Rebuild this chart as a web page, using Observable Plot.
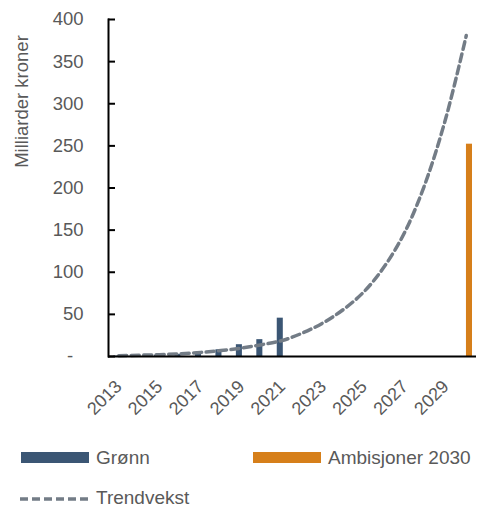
<!DOCTYPE html>
<html>
<head>
<meta charset="utf-8">
<script src="https://cdn.jsdelivr.net/npm/d3@7"></script>
<script src="https://cdn.jsdelivr.net/npm/@observablehq/plot@0.6"></script>
<style>
  body { margin: 0; background: #fff; font-family: "Liberation Sans", Arial, sans-serif; color: #595959; }
  #chart { width: 477px; height: 430px; }
  #legend { position: relative; width: 477px; height: 77px; font-size: 19px; }
  .sw { position: absolute; }
  .lt { position: absolute; line-height: 17px; white-space: nowrap; }
</style>
</head>
<body>
<div id="chart"></div>
<div id="legend"></div>
<script>
// ---- Data ----
const years = [2013, 2014, 2015, 2016, 2017, 2018, 2019, 2020, 2021, 2022, 2023, 2024, 2025, 2026, 2027, 2028, 2029, 2030];
const gronnYears = [2013, 2014, 2015, 2016, 2017, 2018, 2019, 2020, 2021];
const gronnValues = [0.5, 1, 1.5, 2.5, 5, 8, 14, 20, 45.5];
const ambisjonYears = [2030];
const ambisjonValues = [252];
const trendValues = [1, 1.5, 2.2, 3.2, 4.8, 7, 10, 14, 19, 28, 40, 56, 77, 107, 148, 206, 283, 381];
const xTickLabels = [2013, 2015, 2017, 2019, 2021, 2023, 2025, 2027, 2029];
const yTicks = [0, 50, 100, 150, 200, 250, 300, 350, 400];
const yTitle = "Milliarder kroner";
const seriesNames = ["Grønn", "Ambisjoner 2030", "Trendvekst"];

// ---- Tables ----
const gronnData = gronnYears.map((y, i) => ({year: y, value: gronnValues[i]}));
const ambData = ambisjonYears.map((y, i) => ({year: y, value: ambisjonValues[i]}));
const trendData = years.map((y, i) => ({year: y, value: trendValues[i]}));

const BLUE = "#3b5674", ORANGE = "#d67f1a", GREY = "#737c86", TEXT = "#595959";
const W = 477, ML = 108, MR = 1, TICK = 7;

const plot = Plot.plot({
  width: W,
  height: 430,
  marginLeft: ML,
  marginRight: MR,
  marginTop: 19,
  marginBottom: 74,
  style: {fontFamily: "'Liberation Sans', Arial, sans-serif", fontSize: "18.5px", color: TEXT, background: "white", overflow: "visible"},
  x: {type: "band", domain: years, padding: 0, round: false, label: null},
  y: {domain: [0, 400], label: null},
  marks: [
    Plot.barY(gronnData, {x: "year", y: "value", fill: BLUE, insetLeft: 5.2, insetRight: 9.2}),
    Plot.barY(ambData, {x: "year", y: "value", fill: ORANGE, insetLeft: 10.4, insetRight: 4}),
    Plot.lineY(trendData, {x: "year", y: "value", stroke: GREY, strokeWidth: 3.5, strokeDasharray: "8,4.5", curve: "catmull-rom"}),
    Plot.ruleY([0], {stroke: "black", strokeWidth: 2}),
    Plot.frame({anchor: "left", stroke: "black", strokeWidth: 2}),
    Plot.tickY(yTicks, {y: d => d, stroke: "black", strokeWidth: 2, insetRight: W - ML - MR - TICK}),
    Plot.axisY({ticks: yTicks, tickSize: 0, tickPadding: 25, fill: TEXT,
      tickFormat: d => d === 0 ? "-\u00a0\u00a0" : String(d)}),
    Plot.axisX({ticks: xTickLabels, tickSize: 0, tickRotate: -45, tickPadding: 27, fill: TEXT, dx: 0, fontSize: 18, tickFormat: d => String(d)}),
    Plot.text([yTitle], {frameAnchor: "top-left", rotate: -90, dx: -94, dy: 82, fill: TEXT, textAnchor: "middle", fontSize: 18.5})
  ]
});
document.getElementById("chart").appendChild(plot);

// ---- Legend ----
const legend = document.getElementById("legend");
function add(html) { legend.insertAdjacentHTML("beforeend", html); }
add(`<div class="sw" style="left:21px;top:22px;width:68px;height:11px;background:${BLUE}"></div>`);
add(`<div class="lt" style="left:96px;top:19px">${seriesNames[0]}</div>`);
add(`<div class="sw" style="left:253px;top:22px;width:68px;height:11px;background:${ORANGE}"></div>`);
add(`<div class="lt" style="left:328px;top:19px">${seriesNames[1]}</div>`);
add(`<svg class="sw" style="left:20px;top:65px" width="72" height="8"><line x1="0" y1="4" x2="70" y2="4" stroke="${GREY}" stroke-width="3.5" stroke-dasharray="8,4"/></svg>`);
add(`<div class="lt" style="left:96px;top:59px">${seriesNames[2]}</div>`);
</script>
</body>
</html>
